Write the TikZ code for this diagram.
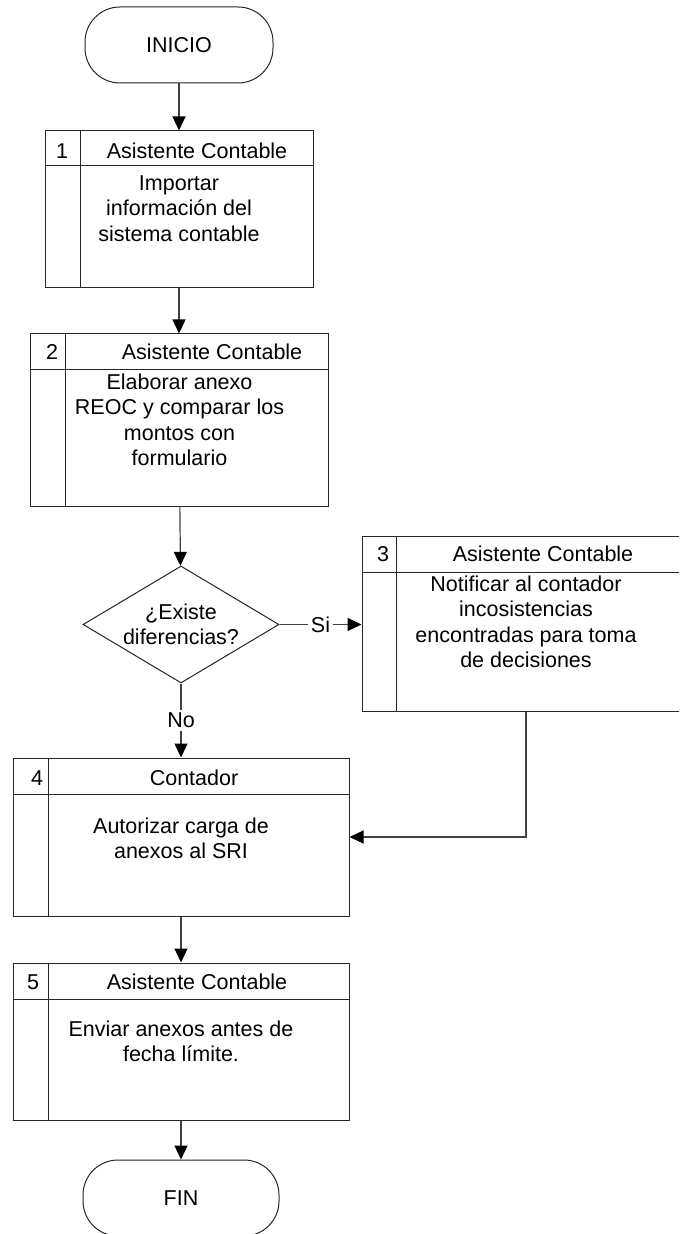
\documentclass[tikz,border=0pt]{standalone}
\usepackage{fontspec}
\setmainfont{Liberation Sans}
\usetikzlibrary{arrows.meta,shapes.geometric}

\begin{document}
\begin{tikzpicture}[x=0.5pt,y=-0.5pt]
\tikzset{
  termnode/.style={rectangle,draw=black!85,line width=0.5pt,rounded corners=17.5pt,minimum height=38pt,inner sep=0pt,font=\fontsize{10.75}{12.75}\selectfont},
  procbox/.style={rectangle,draw=black!85,line width=0.5pt,inner sep=0pt},
  decnode/.style={diamond,draw=black!85,line width=0.5pt,inner sep=0pt,minimum width=98pt,minimum height=58.5pt},
  celltext/.style={font=\fontsize{10.75}{12.75}\selectfont,align=center,inner sep=0pt},
  partline/.style={black!85,line width=0.5pt},
  flow/.style={draw=black!75,line width=0.6pt,-{Triangle[length=7pt,width=6.5pt,color=black]}},
  flowlabel/.style={celltext,fill=white,inner sep=1.5pt}
}
\useasboundingbox (0,0) rectangle (679,1234);
\clip (0,0) rectangle (679,1234);
% terminales
\node[termnode,minimum width=94pt] (n_ini) at (179,45) {INICIO};
\node[termnode,minimum width=98pt] (n_fin) at (181,1198) {FIN};
% actividades
\node[procbox,minimum width=134pt,minimum height=78.5pt] (n_b1) at (179,209.5) {};
\node[procbox,minimum width=149pt,minimum height=86pt] (n_b2) at (179,420) {};
\node[procbox,minimum width=164pt,minimum height=87.5pt] (n_b3) at (526,623.5) {};
\node[procbox,minimum width=168pt,minimum height=79pt] (n_b4) at (181,837) {};
\node[procbox,minimum width=168pt,minimum height=78.5pt] (n_b5) at (181,1041.5) {};
\node[decnode] (n_dec) at (181,624.5) {};
% cabeceras y columnas
\draw[partline] (45,166) -- (313,166) (80,131) -- (80,288);
\draw[partline] (30,370) -- (328,370) (65,334) -- (65,506);
\draw[partline] (362,572) -- (690,572) (396,536) -- (396,711);
\draw[partline] (13,794) -- (349,794) (48,758) -- (48,916);
\draw[partline] (13,999) -- (349,999) (48,963) -- (48,1120);
% textos
\node[celltext] (t_n1) at (62,151) {1};
\node[celltext] (t_h1) at (197,151) {Asistente Contable};
\node[celltext] (t_b1) at (179,208.5) {Importar\\información del\\sistema contable};
\node[celltext] (t_n2) at (52,352) {2};
\node[celltext] (t_h2) at (212,352) {Asistente Contable};
\node[celltext] (t_b2) at (179.5,420) {Elaborar anexo\\REOC y comparar los\\montos con\\formulario};
\node[celltext] (t_n3) at (383,554) {3};
\node[celltext] (t_h3) at (543,554) {Asistente Contable};
\node[celltext] (t_b3) at (526,622) {Notificar al contador\\incosistencias\\encontradas para toma\\de decisiones};
\node[celltext] (t_n4) at (37,778) {4};
\node[celltext] (t_h4) at (194,778) {Contador};
\node[celltext] (t_b4) at (181,838.5) {Autorizar carga de\\anexos al SRI};
\node[celltext] (t_n5) at (33,982) {5};
\node[celltext] (t_h5) at (197,982) {Asistente Contable};
\node[celltext] (t_b5) at (181,1041.5) {Enviar anexos antes de\\fecha límite.};
\node[celltext] (t_dec) at (n_dec) {¿Existe\\diferencias?};
% flujo
\draw[flow] (n_ini) -- (n_b1);
\draw[flow] (n_b1) -- (n_b2);
\draw[flow] (n_b2) -- (n_dec);
\draw[flow] (n_dec.east) -- node[flowlabel] {Si} (n_dec.east -| n_b3.west);
\draw[flow] (n_dec) -- node[flowlabel] {No} (n_b4);
\draw[flow] (n_b3.south) |- (n_b4.east);
\draw[flow] (n_b4) -- (n_b5);
\draw[flow] (n_b5) -- (n_fin);
\end{tikzpicture}
\end{document}
